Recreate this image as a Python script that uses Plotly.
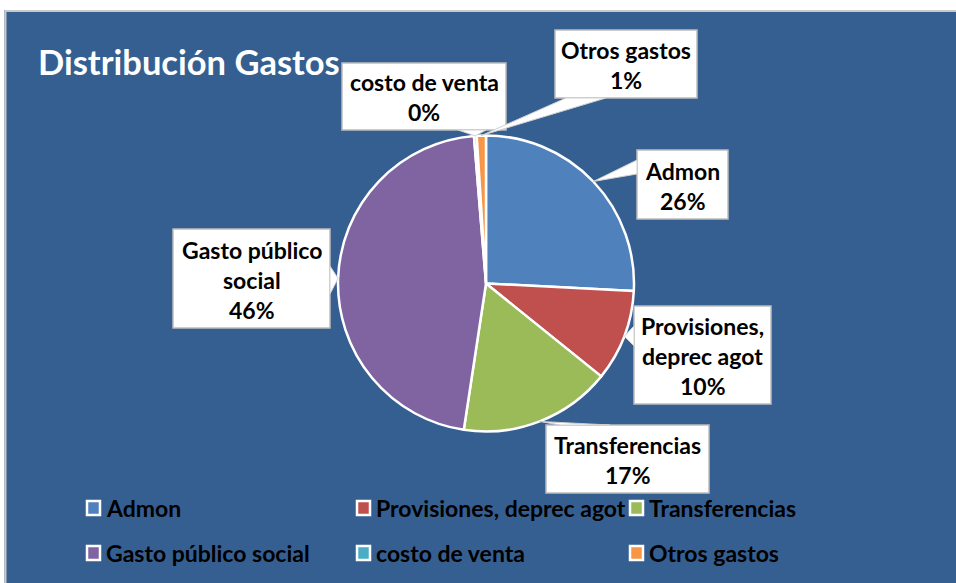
import math
import plotly.graph_objects as go

# ---- data ----
categories = ["Admon", "Provisiones, deprec agot", "Transferencias",
              "Gasto público social", "costo de venta", "Otros gastos"]
values = [25.8, 10.0, 16.6, 46.3, 0.3, 1.0]
colors = ["#4F81BD", "#C0504D", "#9BBB59", "#8064A2", "#4BACC6", "#F79646"]
label_lines = [["Admon"], ["Provisiones,", "deprec agot"], ["Transferencias"],
               ["Gasto público", "social"], ["costo de venta"], ["Otros gastos"]]
title_text = "Distribución Gastos"

# ---- geometry (pixels in the browser window) ----
W, H = 956, 583
CX, CY, R = 486, 283.5, 148
BG = "#365F91"
FONT = "Lato"
FS = 23


def X(px):
    return px / W


def Y(py):
    return 1 - py / H


# callout boxes: (x0, y0, x1, y1) and wedge base points on box edge
boxes = [
    ((637, 150, 728, 219), [(637, 160), (637, 174)]),
    ((634, 306, 771, 404), [(634, 326), (634, 346)]),
    ((546, 425, 709, 493), [(560, 425), (610, 425)]),
    ((173, 229, 330, 328), [(330, 266), (330, 294)]),
    ((342, 63, 506, 130), [(458, 130), (486, 130)]),
    ((555, 30, 697, 98), [(566, 98), (606, 98)]),
]

fig = go.Figure()
fig.add_trace(go.Pie(
    labels=categories, values=values, sort=False, direction="clockwise",
    rotation=0, marker=dict(colors=colors, line=dict(color="white", width=2.5)),
    textinfo="none", hoverinfo="label+percent", showlegend=False,
    domain=dict(x=[X(CX - R), X(CX + R)], y=[Y(CY + R), Y(CY - R)]),
))

shapes = []
annotations = []

# white page strips at top / left and light frame lines
shapes.append(dict(type="rect", xref="paper", yref="paper", layer="below",
                   x0=X(-5), x1=X(1000), y0=Y(10), y1=Y(-20),
                   fillcolor="white", line=dict(width=0)))
shapes.append(dict(type="rect", xref="paper", yref="paper", layer="below",
                   x0=X(-20), x1=X(4.5), y0=Y(600), y1=Y(-20),
                   fillcolor="white", line=dict(width=0)))
shapes.append(dict(type="line", xref="paper", yref="paper", layer="below",
                   x0=X(5), x1=X(1000), y0=Y(11), y1=Y(11),
                   line=dict(color="#C8C8C8", width=2)))
shapes.append(dict(type="line", xref="paper", yref="paper", layer="below",
                   x0=X(5.5), x1=X(5.5), y0=Y(600), y1=Y(11),
                   line=dict(color="#C8C8C8", width=2)))

total = sum(values)
cum = 0.0
for i, v in enumerate(values):
    mid = (cum + v / 2) / total * 2 * math.pi
    cum += v
    tipx = CX + R * math.sin(mid)
    tipy = CY - R * math.cos(mid)
    (x0, y0, x1, y1), base = boxes[i]
    # box
    shapes.append(dict(type="rect", xref="paper", yref="paper", layer="above",
                       x0=X(x0), x1=X(x1), y0=Y(y1), y1=Y(y0),
                       fillcolor="white", line=dict(color="#BDBDBD", width=1.5)))
    # wedge pointer
    (bx0, by0), (bx1, by1) = base
    path = "M {} {} L {} {} L {} {} Z".format(X(bx0), Y(by0), X(tipx), Y(tipy), X(bx1), Y(by1))
    shapes.append(dict(type="path", xref="paper", yref="paper", layer="above",
                       path=path, fillcolor="white", line=dict(color="#D0D0D0", width=1)))
    # text lines
    pct = "{}%".format(round(v / total * 100))
    lines = label_lines[i] + [pct]
    n = len(lines)
    cy = (y0 + y1) / 2 + 1
    for k, t in enumerate(lines):
        ly = cy + (k - (n - 1) / 2) * 30
        annotations.append(dict(xref="paper", yref="paper", x=X((x0 + x1) / 2), y=Y(ly),
                                text="<b>" + t + "</b>", showarrow=False,
                                xanchor="center", yanchor="middle",
                                font=dict(family=FONT, size=FS, color="black")))

# title
annotations.append(dict(xref="paper", yref="paper", x=X(36), y=Y(62),
                        text="<b>" + title_text + "</b>", showarrow=False,
                        xanchor="left", yanchor="middle",
                        font=dict(family=FONT, size=34.5, color="white")))

# legend (manual, 3 per row)
leg_x = [87, 357, 630]
leg_y = [508, 553]
for i, name in enumerate(categories):
    lx = leg_x[i % 3]
    ly = leg_y[i // 3]
    shapes.append(dict(type="rect", xref="paper", yref="paper", layer="above",
                       x0=X(lx), x1=X(lx + 13), y0=Y(ly + 7), y1=Y(ly - 7),
                       fillcolor=colors[i], line=dict(color="white", width=2.5)))
    annotations.append(dict(xref="paper", yref="paper", x=X(lx + 17), y=Y(ly),
                            text="<b>" + name + "</b>", showarrow=False,
                            xanchor="left", yanchor="middle",
                            font=dict(family=FONT, size=FS, color="black")))

fig.update_layout(width=W, height=H, margin=dict(l=0, r=0, t=0, b=0),
                  paper_bgcolor=BG, plot_bgcolor=BG,
                  shapes=shapes, annotations=annotations, showlegend=False)

# remove the default page margin so the figure fills the window exactly
fig.write_html("out.html", config={"displayModeBar": False},
               post_script="document.body.style.margin='0';document.body.style.overflow='hidden';")
